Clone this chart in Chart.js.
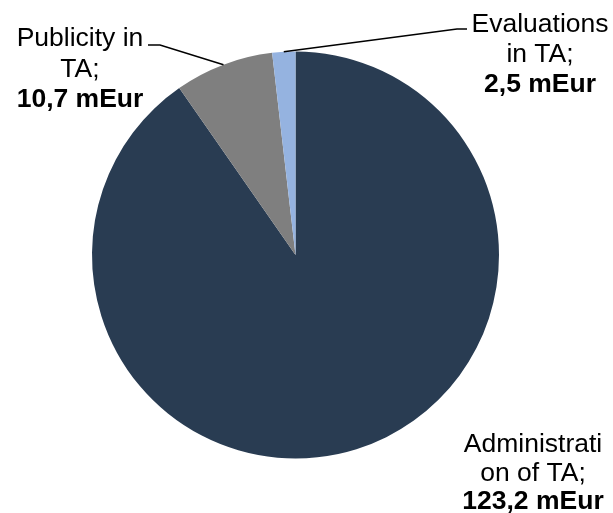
<!DOCTYPE html>
<html>
<head>
<meta charset="utf-8">
<script src="https://cdn.jsdelivr.net/npm/chart.js@4/dist/chart.umd.min.js"></script>
<style>
html,body{margin:0;padding:0;background:#fff;}
canvas{display:block;}
</style>
</head>
<body>
<canvas id="c" width="613" height="513"></canvas>
<script>
const categories = ["Administration of TA", "Publicity in TA", "Evaluations in TA"];
const values = [123.2, 10.7, 2.5];
const labelLines = [["Administrati", "on of TA;"], ["Publicity in", "TA;"], ["Evaluations", "in TA;"]];
const valueLabels = ["123,2 mEur", "10,7 mEur", "2,5 mEur"];
const colors = ["#293C52", "#7F7F7F", "#95B3E0"];

// label placement: centre x, first baseline y, line step, optional leader elbow/end
const labelLayout = [
  {x: 533, y: 452, step: 28.5, leader: null},
  {x: 80, y: 46, step: 30.5, leader: {elbow: [160, 45], end: [148, 45]}},
  {x: 540, y: 32, step: 30, leader: {elbow: [457, 29], end: [467, 29]}}
];

const labelPlugin = {
  id: 'pieLabels',
  afterDatasetsDraw(chart) {
    const ctx = chart.ctx;
    const meta = chart.getDatasetMeta(0);
    meta.data.forEach((arc, i) => {
      const L = labelLayout[i];
      const p = arc.getProps(['x','y','startAngle','endAngle','outerRadius'], true);
      if (L.leader) {
        const mid = (p.startAngle + p.endAngle) / 2;
        const ax = p.x + Math.cos(mid) * p.outerRadius;
        const ay = p.y + Math.sin(mid) * p.outerRadius;
        ctx.save();
        ctx.strokeStyle = '#000';
        ctx.lineWidth = 1.5;
        ctx.beginPath();
        ctx.moveTo(ax, ay);
        ctx.lineTo(L.leader.elbow[0], L.leader.elbow[1]);
        ctx.lineTo(L.leader.end[0], L.leader.end[1]);
        ctx.stroke();
        ctx.restore();
      }
      ctx.save();
      ctx.fillStyle = '#000';
      ctx.textAlign = 'center';
      ctx.textBaseline = 'alphabetic';
      ctx.font = '26.5px "Liberation Sans", Arial, sans-serif';
      labelLines[i].forEach((t, k) => ctx.fillText(t, L.x, L.y + k * L.step));
      ctx.font = 'bold 26.5px "Liberation Sans", Arial, sans-serif';
      ctx.fillText(valueLabels[i], L.x, L.y + labelLines[i].length * L.step);
      ctx.restore();
    });
  }
};

new Chart(document.getElementById('c'), {
  type: 'pie',
  data: {
    labels: categories,
    datasets: [{
      data: values,
      backgroundColor: colors,
      borderWidth: 0,
      hoverOffset: 0,
      offset: 0
    }]
  },
  options: {
    responsive: false,
    animation: false,
    rotation: 0,
    layout: {padding: {left: 92, right: 114, top: 51.5, bottom: 54.5}},
    plugins: {legend: {display: false}, tooltip: {enabled: false}, title: {display: false}},
    events: []
  },
  plugins: [labelPlugin]
});
</script>
</body>
</html>
